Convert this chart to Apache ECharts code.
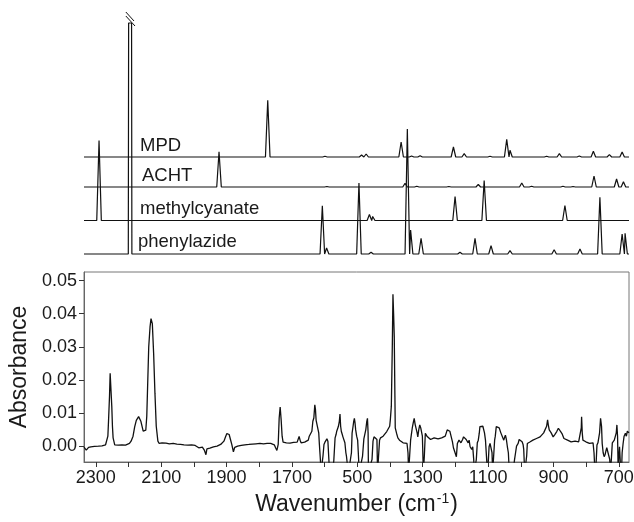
<!DOCTYPE html>
<html><head><meta charset="utf-8">
<script src="https://cdn.jsdelivr.net/npm/echarts@6/dist/echarts.min.js"></script>
<style>html,body{margin:0;padding:0;background:#fff}#c{width:634px;height:522px}</style>
</head><body><div id="c"></div>
<script>
// ---------- axis extents and ticks ----------
const wnMin = 669, wnMax = 2336;
const absMin = -0.0048, absMax = 0.0526;
const xTickValues = [2300, 2100, 1900, 1700, 1500, 1300, 1100, 900, 700];
const xTickLabels = ['2300', '2100', '1900', '1700', '500', '1300', '1100', '900', '700'];
const xTickMarks = [2300, 2200, 2100, 2000, 1900, 1800, 1700, 1600, 1500, 1400, 1300, 1200, 1100, 1000, 900, 800, 700];
const yTickValues = [0, 0.01, 0.02, 0.03, 0.04, 0.05];
const yTickLabels = ['0.00', '0.01', '0.02', '0.03', '0.04', '0.05'];

// ---------- calculated spectra (stacked, arbitrary intensity units) ----------
const traceNames = ['MPD', 'ACHT', 'methylcyanate', 'phenylazide'];
const traceOffsets = [97, 67, 33.5, 0];
const mpdPeaks = [[1774, 56.7], [1599, 0.7], [1487, 2], [1473, 3], [1461, 2], [1366, 15], [1334, 1], [1308, 1.3],
  [1206, 10], [1173, 3.3], [1094, 0.7], [1043, 17.7], [1033, 6.7], [921, 0.7], [882, 3.3], [821, 1], [778, 5.7], [729, 2.3], [690, 5]];
const achtPeaks = [[1923, 35.3], [1593, 0.5], [1354, 3.7], [1318, 0.7], [1220, 0.5], [1130, 2.7], [997, 4], [967, 0.7],
  [871, 0.7], [840, 0.5], [776, 11], [707, 8], [686, 5.3]];
const methylcyanatePeaks = [[2290, 80], [1463, 6], [1453, 4], [1201, 24], [1112, 40], [865, 15]];
const phenylazidePeaks = [[2195, 231], [1607, 48.3], [1594, 6], [1495, 71], [1458, 1.7], [1347, 125], [1337, 24], [1305, 15.7],
  [1186, 1.7], [1140, 15.7], [1091, 8.3], [1033, 3.3], [898, 4.3], [819, 5], [758, 56.7], [690, 20], [681, 20.7]];
const brokenPeakWn = 2195; // off-scale phenylazide band

// ---------- measured spectrum ----------
const absorbance = [
[2336,-0.0003],[2332,0.0003],[2329,-0.0012],[2326,-0.001],[2322,-0.0004],[2320,-0.0008],[2315,-0.0002],[2309,-0.0006],[2304,-0.0001],
[2298,-0.0005],[2292,0.0000],[2287,-0.0002],[2281,0.0001],[2276,0.0000],[2270,0.0004],[2267,0.0008],[2263,0.003],[2261,0.0075],
[2258,0.015],[2256,0.022],[2253,0.0215],[2251,0.012],[2249,0.006],[2247,0.0025],[2242,0.0004],[2237,0.0002],[2231,0.0003],[2225,0.0000],
[2220,0.0004],[2214,0.0001],[2209,0.0003],[2203,0.0005],[2197,0.0008],[2192,0.0015],[2186,0.003],[2181,0.0058],[2176,0.0078],[2173,0.0082],
[2169,0.0089],[2166,0.0091],[2162,0.0075],[2158,0.0058],[2155,0.0045],[2153,0.0039],[2150,0.0042],[2147,0.0048],[2144,0.009],[2142,0.016],
[2138,0.030],[2134,0.036],[2131,0.0385],[2130,0.039],[2127,0.037],[2123,0.028],[2119,0.016],[2115,0.006],[2110,0.0015],[2106,0.0008],
[2102,0.0006],[2097,0.001],[2091,0.0005],[2085,0.0009],[2080,0.0004],[2075,0.0007],[2069,0.0003],[2063,0.0008],[2058,0.0004],[2052,0.0006],
[2046,0.0002],[2041,0.0005],[2035,0.0001],[2030,0.0004],[2024,0.0000],[2018,0.0003],[2013,0.0001],[2007,0.0004],[2001,-0.0001],[1996,0.0002],
[1990,-0.0002],[1985,-0.0005],[1979,-0.0009],[1974,-0.0003],[1968,-0.0012],[1963,-0.0026],[1960,-0.0008],[1957,-0.0003],[1951,-0.0006],
[1946,0.0000],[1940,-0.0002],[1935,0.0002],[1929,0.0000],[1924,0.0003],[1918,0.0005],[1913,0.0008],[1908,0.0015],[1903,0.0028],[1899,0.0038],
[1896,0.0042],[1892,0.0035],[1888,0.002],[1884,0.0005],[1881,-0.0008],[1879,-0.0017],[1875,-0.0004],[1870,-0.0006],[1866,0.0000],[1860,-0.0002],
[1855,0.0002],[1849,0.0001],[1844,0.0004],[1838,0.0002],[1832,0.0005],[1826,0.0003],[1821,0.0006],[1815,0.0004],[1810,0.0007],[1804,0.0005],
[1798,0.0008],[1793,0.0006],[1787,0.0007],[1781,0.0005],[1776,0.0008],[1770,0.0006],[1765,0.0008],[1759,0.0006],[1754,0.0004],[1750,-0.0005],
[1746,-0.0013],[1742,0.0005],[1739,0.0085],[1736,0.0118],[1733,0.008],[1730,0.003],[1727,0.0012],[1722,0.0014],[1717,0.001],[1711,0.0013],
[1706,0.0009],[1700,0.0013],[1695,0.0011],[1689,0.0014],[1684,0.0012],[1680,0.0018],[1678,0.0029],[1675,0.0018],[1672,0.0010],[1667,0.0013],
[1661,0.0012],[1656,0.0016],[1650,0.0018],[1647,0.0030],[1644,0.0025],[1639,0.0045],[1636,0.0075],[1633,0.0085],[1630,0.0125],[1628,0.011],
[1626,0.0078],[1623,0.008],[1621,0.0072],[1618,0.004],[1616,0.0005],[1613,-0.004],[1611,-0.008],[1608,-0.008],[1605,-0.003],[1602,0.0005],
[1599,0.0012],[1596,0.0018],[1593,0.0022],[1590,0.0015],[1587,-0.004],[1585,-0.008],[1581,-0.008],[1576,-0.008],[1572,-0.0045],[1568,0.0025],
[1565,0.0035],[1563,0.0045],[1560,0.0040],[1558,0.0059],[1555,0.0075],[1553,0.0097],[1551,0.006],[1549,0.0045],[1546,0.0035],[1544,0.0028],
[1541,0.0022],[1538,0.0010],[1535,-0.002],[1533,-0.0032],[1530,-0.006],[1527,-0.008],[1521,-0.008],[1518,-0.002],[1516,0.0039],[1513,0.0060],
[1511,0.0075],[1509,0.0084],[1507,0.0070],[1505,0.0049],[1502,0.0030],[1499,0.0018],[1497,-0.002],[1494,-0.008],[1488,-0.008],[1484,-0.003],
[1480,0.0022],[1477,0.0028],[1474,0.0050],[1471,0.0075],[1469,0.0084],[1467,0.004],[1466,-0.008],[1460,-0.008],[1455,-0.004],[1452,0.0015],
[1449,0.0028],[1446,0.0030],[1443,0.0030],[1440,0.0020],[1438,-0.008],[1435,-0.003],[1432,0.0018],[1429,0.0025],[1426,0.0028],[1421,0.0030],
[1415,0.0033],[1410,0.0044],[1406,0.0040],[1404,0.0039],[1401,0.0060],[1399,0.0080],[1396,0.012],[1393,0.030],[1391,0.0459],[1389,0.040],
[1387,0.033],[1385,0.015],[1384,0.0055],[1380,0.0039],[1376,0.0025],[1371,0.0018],[1366,0.0013],[1360,0.0010],[1354,0.0008],[1348,0.0008],
[1345,-0.002],[1343,-0.008],[1340,-0.003],[1337,0.0018],[1334,0.0040],[1332,0.0054],[1329,0.0070],[1326,0.0084],[1323,0.0065],[1320,0.0059],
[1317,0.0040],[1315,0.0028],[1312,0.0050],[1309,0.0064],[1306,0.0055],[1304,0.0059],[1301,0.0030],[1298,-0.008],[1295,-0.003],[1292,0.0039],
[1287,0.0030],[1281,0.0028],[1276,0.0020],[1270,0.0018],[1265,0.0025],[1259,0.0028],[1253,0.0022],[1248,0.0018],[1242,0.0025],[1237,0.0023],
[1231,0.0030],[1225,0.0049],[1220,0.0054],[1217,0.0045],[1214,0.0039],[1209,0.0013],[1206,-0.0005],[1203,-0.0002],[1200,-0.0010],[1197,-0.0032],
[1194,0.0008],[1192,0.0013],[1189,0.0018],[1186,0.0018],[1183,0.0010],[1181,0.0013],[1178,0.0020],[1175,0.0028],[1172,0.0033],[1170,0.0028],
[1167,0.0020],[1164,0.0018],[1161,0.0010],[1158,0.0018],[1155,-0.0002],[1153,-0.0002],[1150,-0.0010],[1147,-0.0002],[1144,-0.004],[1142,-0.008],
[1138,-0.008],[1136,-0.004],[1133,0.0010],[1130,0.0018],[1127,0.0039],[1125,0.0059],[1122,0.0062],[1119,0.0064],[1116,0.0060],[1114,0.0059],
[1111,0.0040],[1108,0.0018],[1105,-0.003],[1102,-0.008],[1099,-0.004],[1097,-0.0002],[1094,0.0008],[1091,0.0010],[1088,-0.002],[1086,-0.008],
[1083,-0.003],[1080,0.0018],[1078,0.0030],[1075,0.0059],[1072,0.0062],[1069,0.0064],[1066,0.0055],[1063,0.0049],[1061,0.0040],[1058,0.0039],
[1055,0.0025],[1052,0.0018],[1050,0.0025],[1047,0.0033],[1044,0.0020],[1041,-0.0002],[1038,-0.002],[1035,-0.008],[1024,-0.008],[1019,-0.004],
[1016,-0.002],[1013,0.0000],[1008,0.0008],[1005,0.0020],[1002,0.0018],[999,0.0015],[996,0.0013],[993,0.0005],[991,-0.001],[988,-0.008],
[985,-0.008],[982,-0.003],[980,0.0008],[977,0.0010],[974,0.0005],[971,0.0013],[968,0.0013],[963,0.0018],[957,0.0018],[952,0.0023],[946,0.0023],
[941,0.0028],[935,0.0033],[930,0.0040],[927,0.0044],[924,0.0044],[921,0.0060],[918,0.0079],[916,0.0065],[913,0.0049],[910,0.0045],[907,0.0040],
[904,0.0038],[901,0.0028],[896,0.0035],[893,0.0040],[890,0.0044],[887,0.0050],[885,0.0054],[882,0.0052],[879,0.0045],[874,0.0038],[868,0.0023],
[863,0.0020],[857,0.0018],[851,0.0015],[846,0.0013],[840,0.0018],[834,0.0015],[829,0.0018],[823,0.0013],[818,0.0018],[815,0.0055],[814,0.0089],
[812,0.004],[810,0.0018],[806,0.0013],[801,0.0013],[796,0.0015],[790,0.0008],[785,0.0012],[779,0.0010],[776,-0.002],[773,-0.008],[770,-0.006],
[767,0.0003],[764,0.0010],[762,0.0013],[759,0.0040],[756,0.0084],[753,0.006],[751,0.0008],[748,-0.002],[745,-0.0032],[742,-0.0025],[739,-0.0012],
[737,-0.0005],[734,-0.0002],[731,0.0000],[728,-0.004],[726,-0.008],[723,-0.004],[720,0.0010],[717,0.0015],[714,0.0018],[711,0.0018],[708,0.0040],
[706,0.0064],[704,0.003],[702,-0.008],[700,-0.003],[698,-0.0002],[695,-0.006],[692,-0.008],[690,-0.002],[687,0.0008],[684,0.0030],[682,0.0035],
[680,0.0039],[677,0.0030],[674,0.0045],[672,0.0039],[669,0.0040]
];

// ---------- build stacked stick-spectrum polylines ----------
const HALF_WIDTH = 7; // band half-width in cm-1 for drawing
function buildTrace(peaks, offset) {
  const sorted = peaks.slice().sort((a, b) => b[0] - a[0]);
  const pts = [[wnMax, offset]];
  sorted.forEach(([wn, h]) => {
    if (wn === brokenPeakWn) {
      pts.push([wn + 5.5, offset], [wn + 4.5, offset + h], [wn - 4.5, offset + h], [wn - 5.5, offset]);
    } else {
      pts.push([wn + HALF_WIDTH, offset], [wn, offset + h], [wn - HALF_WIDTH, offset]);
    }
  });
  pts.push([wnMin, offset]);
  return pts;
}
const tracePeaks = [mpdPeaks, achtPeaks, methylcyanatePeaks, phenylazidePeaks];

const chart = echarts.init(document.getElementById('c'), null, {renderer: 'canvas'});
const FONT = '"Liberation Sans", Arial, Helvetica, sans-serif';
const TXT = '#1a1a1a';
const LINE = '#111';

const series = [];
tracePeaks.forEach((p, i) => {
  series.push({
    type: 'line', xAxisIndex: 1, yAxisIndex: 1, data: buildTrace(p, traceOffsets[i]),
    showSymbol: false, clip: false, animation: false,
    lineStyle: {color: LINE, width: 1.2}
  });
});
// break marks on the off-scale band
const topH = phenylazidePeaks.find(p => p[0] === brokenPeakWn)[1];
series.push({type: 'line', xAxisIndex: 1, yAxisIndex: 1, showSymbol: false, clip: false, animation: false,
  data: [[brokenPeakWn + 13, topH + 11], [brokenPeakWn - 12, topH + 2]], lineStyle: {color: LINE, width: 1}});
series.push({type: 'line', xAxisIndex: 1, yAxisIndex: 1, showSymbol: false, clip: false, animation: false,
  data: [[brokenPeakWn + 13, topH + 7], [brokenPeakWn - 15, topH - 3]], lineStyle: {color: LINE, width: 1}});
// measured spectrum
series.push({type: 'line', xAxisIndex: 0, yAxisIndex: 0, data: absorbance, showSymbol: false, clip: true, animation: false,
  lineStyle: {color: LINE, width: 1.3}});

const labelY = [145.8, 176.2, 208.5, 241.8];
const labelX = [140, 142, 140, 138];

chart.setOption({
  backgroundColor: '#fff',
  animation: false,
  grid: [
    {left: 84, right: 5, top: 272, bottom: 60, show: true, borderColor: '#777', borderWidth: 1, backgroundColor: 'transparent',
      containLabel: false, outerBoundsMode: 'none'},
    {left: 84, right: 5, top: 10, height: 254, show: false, containLabel: false, outerBoundsMode: 'none'}
  ],
  xAxis: [
    {type: 'value', gridIndex: 0, min: wnMin, max: wnMax, inverse: true, position: 'bottom',
      axisLine: {show: true, onZero: false, lineStyle: {color: '#666'}},
      splitLine: {show: false},
      axisTick: {show: true, length: 5, customValues: xTickMarks, lineStyle: {color: '#333'}},
      axisLabel: {customValues: xTickValues, margin: 7, color: TXT, fontFamily: FONT, fontSize: 18, hideOverlap: false,
        formatter: v => xTickLabels[xTickValues.indexOf(v)] ?? ''},
      name: 'Wavenumber (cm{sup|-1})', nameLocation: 'middle', nameGap: 30,
      nameTextStyle: {color: TXT, fontFamily: FONT, fontSize: 23,
        rich: {sup: {fontSize: 14, fontFamily: FONT, color: TXT, verticalAlign: 'top', padding: [0, 1, 11, 1]}}}
    },
    {type: 'value', gridIndex: 1, min: wnMin, max: wnMax, inverse: true, show: false, splitLine: {show: false}}
  ],
  yAxis: [
    {type: 'value', gridIndex: 0, min: absMin, max: absMax, position: 'left',
      axisLine: {show: true, onZero: false, lineStyle: {color: '#666'}},
      splitLine: {show: false},
      axisTick: {show: true, length: 5, customValues: yTickValues, lineStyle: {color: '#333'}},
      axisLabel: {customValues: yTickValues, margin: 7, color: TXT, fontFamily: FONT, fontSize: 18,
        formatter: v => yTickLabels[yTickValues.indexOf(v)] ?? ''},
      name: 'Absorbance', nameLocation: 'middle', nameGap: 50, nameRotate: 90,
      nameTextStyle: {color: TXT, fontFamily: FONT, fontSize: 23}
    },
    {type: 'value', gridIndex: 1, min: -10, max: 244, show: false, splitLine: {show: false}}
  ],
  series: series,
  graphic: traceNames.map((n, i) => ({
    type: 'text', x: labelX[i], y: labelY[i], z: 100,
    style: {text: n, font: '18.5px ' + FONT, fill: TXT, verticalAlign: 'middle', textVerticalAlign: 'middle'}
  }))
});
</script></body></html>
